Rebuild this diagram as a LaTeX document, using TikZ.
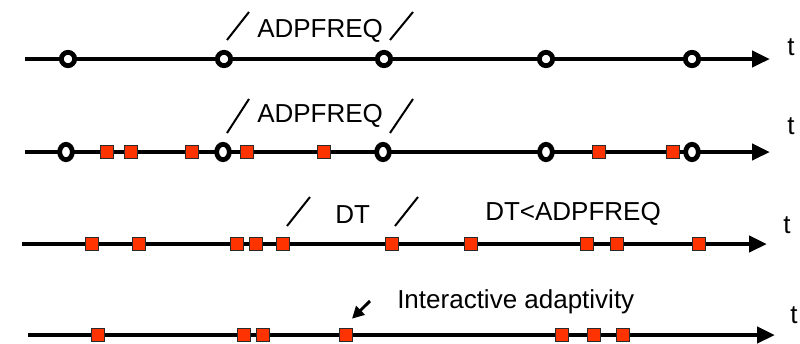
\documentclass[tikz,border=0pt]{standalone}
\usepackage{fontspec}
\setmainfont{Liberation Sans}
\usetikzlibrary{arrows.meta, positioning, shapes.geometric}

\definecolor{markred}{HTML}{FF3300}
\definecolor{markedge}{HTML}{2A2A2A}

\tikzset{
  axis/.style={line width=3.6pt, -{Triangle[length=13.5pt, width=12pt]}},
  outmark/.style={circle, draw, line width=3.6pt, fill=white, inner sep=0pt, minimum size=10pt},
  outmarktall/.style={ellipse, draw, line width=3.6pt, fill=white, inner sep=0pt, minimum width=9.5pt, minimum height=11.5pt},
  stepmark/.style={rectangle, draw=markedge, line width=0.75pt, fill=markred, inner sep=0pt, minimum size=9.75pt},
  tick/.style={line width=1.5pt},
  lbl/.style={anchor=base west, inner sep=0pt, font=\fontsize{19.5}{23}\selectfont}
}

\begin{document}
\begin{tikzpicture}[x=0.75pt, y=-0.75pt, >=Stealth]
\useasboundingbox (0,0) rectangle (800,343);

% time axes
\coordinate (sa) at (25,59);  \coordinate (ea) at (770,59);
\coordinate (sb) at (25,152); \coordinate (eb) at (770,152);
\coordinate (sc) at (22,244); \coordinate (ec) at (767,244);
\coordinate (sd) at (28,335); \coordinate (ed) at (775,335);

\draw[axis] (sa) -- (ea);
\draw[axis] (sb) -- (eb);
\draw[axis] (sc) -- (ec);
\draw[axis] (sd) -- (ed);

\node[lbl] (ta) at (787,55) {t};
\node[lbl] (tb) at (787,134) {t};
\node[lbl] (tc) at (783,233) {t};
\node[lbl] (td) at (790,323) {t};

% row 1: output times
\foreach \x [count=\i] in {68,224,384,546,692}
  \node[outmark] (oa\i) at (\x,59) {};

\draw[tick] (227,40) -- (249,12);
\draw[tick] (390,40) -- (413,12);
\node[lbl] (fa) at (257,37) {ADPFREQ};

% row 2: output times and time steps
\foreach \x [count=\i] in {107,131,192,247,324,599,673}
  \node[stepmark] (pb\i) at (\x,152) {};
\foreach \x [count=\i] in {66,223,383,546,692}
  \node[outmarktall] (ob\i) at (\x,152) {};

\draw[tick] (227,133) -- (249,99);
\draw[tick] (390,133) -- (413,99);
\node[lbl] (fb) at (257,122) {ADPFREQ};

% row 3: time steps only
\foreach \x [count=\i] in {92,139,237,256,283,392,471,587,617,699}
  \node[stepmark] (pc\i) at (\x,244) {};

\draw[tick] (287,226) -- (310,197);
\draw[tick] (395,226) -- (418,197);
\node[lbl] (dt) at (335,223) {DT};
\node[lbl] (dtc) at (485,220) {DT<ADPFREQ};

% row 4: interactive steps
\foreach \x [count=\i] in {98,244,263,346,562,594,623}
  \node[stepmark] (pd\i) at (\x,335) {};

\node[lbl] (ia) at (397,308) {Interactive adaptivity};
\coordinate (iat) at (370,301);
\draw[line width=2.2pt, -{Triangle[length=9pt, width=9pt]}] (iat) -- ([xshift=4.5pt, yshift=7pt]pd4.north);

\end{tikzpicture}
\end{document}
